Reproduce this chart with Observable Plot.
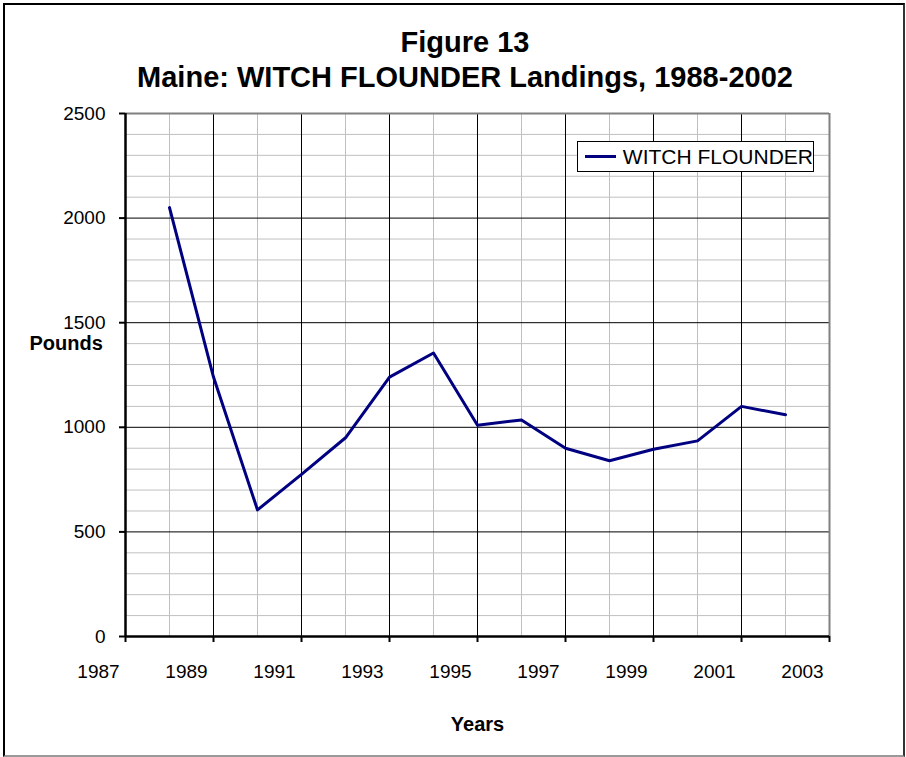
<!DOCTYPE html>
<html>
<head>
<meta charset="utf-8">
<script src="https://cdn.jsdelivr.net/npm/d3@7"></script>
<script src="https://cdn.jsdelivr.net/npm/@observablehq/plot@0.6"></script>
<style>
  body { margin: 0; background: white; font-family: "Liberation Sans", Arial, sans-serif; }
  #wrap { position: relative; width: 906px; height: 757px; overflow: hidden; background: white; }
  #border { position: absolute; left: 3px; top: 3px; width: 902px; height: 754px; box-sizing: border-box;
    border-left: 2px solid #000; border-top: 2px solid #000; border-right: 2px solid #333; border-bottom: 2px solid #999; pointer-events: none; }
  #title { box-sizing: border-box; width: 906px; height: 100px; padding-top: 25px; padding-left: 24px;
    text-align: center; font-weight: bold; font-size: 29px; line-height: 35px; color: #000; }
  #legend { position: absolute; left: 577px; top: 141px; width: 237px; height: 31px; box-sizing: border-box;
    border: 1px solid #000; background: white; display: flex; align-items: center; white-space: nowrap; }
  #legend .sw { display: inline-block; width: 31px; height: 3px; background: #000080; margin-left: 7px; }
  #legend .lb { font-size: 21px; margin-left: 7px; color: #000; }
</style>
</head>
<body>
<div id="wrap">
  <div id="title"><div>Figure 13</div><div>Maine: WITCH FLOUNDER Landings, 1988-2002</div></div>
  <div id="chart"></div>
  <div id="legend"><span class="sw"></span><span class="lb">WITCH FLOUNDER</span></div>
  <div id="border"></div>
</div>
<script>
const years = [1988, 1989, 1990, 1991, 1992, 1993, 1994, 1995, 1996, 1997, 1998, 1999, 2000, 2001, 2002];
const pounds = [2050, 1240, 605, 775, 950, 1240, 1355, 1010, 1035, 900, 840, 895, 935, 1100, 1060];
const seriesName = "WITCH FLOUNDER";
const xTickLabels = [1987, 1989, 1991, 1993, 1995, 1997, 1999, 2001, 2003];
const xMinorTicks = [1988, 1990, 1992, 1994, 1996, 1998, 2000, 2002];
const yTickLabels = [0, 500, 1000, 1500, 2000, 2500];
const yMinorTicks = [100, 200, 300, 400, 600, 700, 800, 900, 1100, 1200, 1300, 1400, 1600, 1700, 1800, 1900, 2100, 2200, 2300, 2400];

const data = years.map((y, i) => ({year: y, pounds: pounds[i], series: seriesName}));

const chart = Plot.plot({
  width: 906,
  height: 657,
  marginTop: 13,
  marginBottom: 121,
  marginLeft: 125,
  marginRight: 77,
  style: {fontFamily: "'Liberation Sans', Arial, sans-serif", color: "#000", background: "white", overflow: "visible"},
  x: {domain: [1987, 2003], label: null},
  y: {domain: [0, 2500], label: null},
  marks: [
    Plot.gridY(yMinorTicks, {stroke: "#c0c0c0", strokeOpacity: 1, strokeWidth: 1}),
    Plot.gridX(xMinorTicks, {stroke: "#c0c0c0", strokeOpacity: 1, strokeWidth: 1}),
    Plot.gridY(yTickLabels, {stroke: "#000", strokeOpacity: 1, strokeWidth: 1}),
    Plot.gridX(xTickLabels, {stroke: "#000", strokeOpacity: 1, strokeWidth: 1}),
    Plot.ruleY([2500], {stroke: "#808080", strokeWidth: 2}),
    Plot.ruleX([2003], {stroke: "#808080", strokeWidth: 2}),
    Plot.line(data, {x: "year", y: "pounds", stroke: "#000080", strokeWidth: 3}),
    Plot.ruleX([1987], {stroke: "#000", strokeWidth: 2.5}),
    Plot.ruleY([0], {stroke: "#000", strokeWidth: 2.5}),
    Plot.axisX(xTickLabels, {tickSize: 6, strokeWidth: 2, tickFormat: () => "", label: null}),
    Plot.axisX(xTickLabels, {tickSize: 0, tickPadding: 28, dx: -27, fontSize: 19, tickFormat: d => String(d), label: null}),
    Plot.axisY(yTickLabels, {tickSize: 6, strokeWidth: 2, tickPadding: 14, fontSize: 19, tickFormat: d => String(d), label: null}),
    Plot.text(["Pounds"], {frameAnchor: "left", dx: -96, dy: -31, textAnchor: "start", fontWeight: "bold", fontSize: 20}),
    Plot.text(["Years"], {frameAnchor: "bottom", dy: 94, fontWeight: "bold", fontSize: 20})
  ]
});
document.getElementById("chart").appendChild(chart);
</script>
</body>
</html>
